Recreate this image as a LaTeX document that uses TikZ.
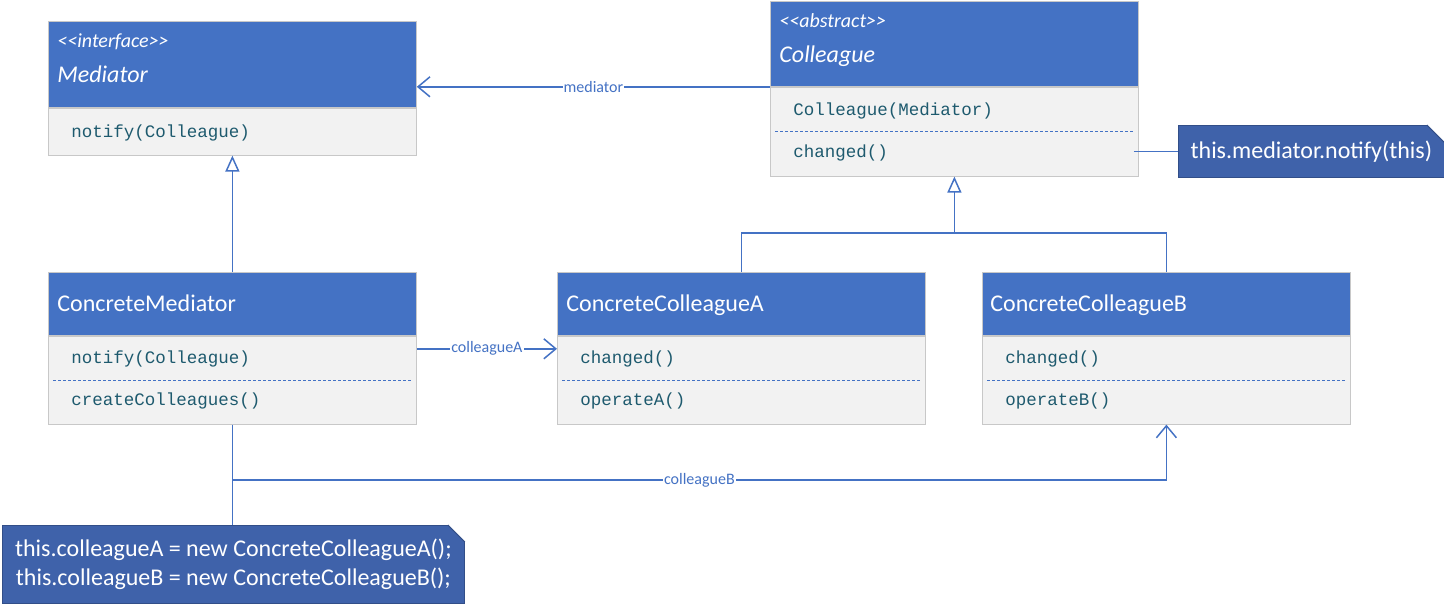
\documentclass[tikz,border=0pt]{standalone}
\usepackage{fontspec}
\setmainfont{Carlito}
\newfontfamily\codefont{Liberation Mono}
\usetikzlibrary{arrows.meta,positioning,calc}
\definecolor{umlblue}{RGB}{68,114,196}
\definecolor{notefill}{RGB}{63,98,170}
\definecolor{bodyfill}{RGB}{242,242,242}
\definecolor{boxline}{RGB}{200,200,200}
\definecolor{membertext}{RGB}{30,90,110}

\begin{document}
\begin{tikzpicture}[x=0.5pt, y=-0.5pt,
    classhead/.style={rectangle, draw=boxline, fill=umlblue, minimum width=184pt, anchor=north west, inner sep=0pt},
    classbody/.style={rectangle, draw=boxline, fill=bodyfill, minimum width=184pt, anchor=north, inner sep=0pt},
    stereotype/.style={anchor=base west, inner sep=0pt, text=white, font=\fontsize{10}{12}\selectfont\itshape},
    classname/.style={anchor=base west, inner sep=0pt, text=white, font=\fontsize{12}{14}\selectfont},
    abstractname/.style={classname, font=\fontsize{12}{14}\selectfont\itshape},
    member/.style={anchor=base west, inner sep=0pt, text=membertext, font=\codefont\fontsize{8.75}{10}\selectfont},
    separator/.style={umlblue, dash pattern=on 1.5pt off 1pt, line width=0.5pt},
    association/.style={umlblue, line width=0.75pt, -{Straight Barb[length=6pt,width=10pt]}},
    generalization/.style={umlblue, line width=0.75pt, -{Triangle[open,fill=white,length=8pt,width=7pt]}},
    link/.style={umlblue, line width=0.75pt},
    role/.style={fill=white, inner sep=0.5pt, text=umlblue, font=\fontsize{8}{9}\selectfont},
    note/.style={rectangle, draw=notefill!80!black, fill=notefill, text=white, inner sep=0pt, anchor=north west, font=\fontsize{12}{14.5}\selectfont, align=center},
    noteline/.style={umlblue, line width=0.5pt}
]
\useasboundingbox (0,0) rectangle (1444,605);

% Mediator
\node[classhead, minimum height=43pt] (medhead) at (48,21) {};
\node[classbody, minimum height=23.5pt] (medbody) at (medhead.south) {};
\node[stereotype] (medstereo) at (57,47) {<{}<interface>{}>};
\node[abstractname] (medname) at (57,82) {Mediator};
\node[member] (mednotify) at (71,137) {notify(Colleague)};

% Colleague
\node[classhead, minimum height=42.5pt] (colhead) at (770,1) {};
\node[classbody, minimum height=44.5pt] (colbody) at (colhead.south) {};
\node[stereotype] (colstereo) at (779,27) {<{}<abstract>{}>};
\node[abstractname] (colname) at (779,62) {Colleague};
\node[member] (colctor) at (793,115) {Colleague(Mediator)};
\node[member] (colchanged) at (793,157) {changed()};
\draw[separator] ([xshift=2.5pt]colbody.west) -- ([xshift=-2.5pt]colbody.east);

% ConcreteMediator
\node[classhead, minimum height=31.5pt] (cmhead) at (48,272) {};
\node[classbody, minimum height=44pt] (cmbody) at (cmhead.south) {};
\node[classname] (cmname) at (57,311) {ConcreteMediator};
\node[member] (cmnotify) at (71,363) {notify(Colleague)};
\node[member] (cmcreate) at (71,405) {createColleagues()};
\draw[separator] ([xshift=2.5pt]cmbody.west) -- ([xshift=-2.5pt]cmbody.east);

% ConcreteColleagueA
\node[classhead, minimum height=31.5pt] (ahead) at (557,272) {};
\node[classbody, minimum height=44pt] (abody) at (ahead.south) {};
\node[classname] (aname) at (566,311) {ConcreteColleagueA};
\node[member] (achanged) at (580,363) {changed()};
\node[member] (aoperate) at (580,405) {operateA()};
\draw[separator] ([xshift=2.5pt]abody.west) -- ([xshift=-2.5pt]abody.east);

% ConcreteColleagueB
\node[classhead, minimum height=31.5pt] (bhead) at (982,272) {};
\node[classbody, minimum height=44pt] (bbody) at (bhead.south) {};
\node[classname] (bname) at (990,311) {ConcreteColleagueB};
\node[member] (bchanged) at (1005,363) {changed()};
\node[member] (boperate) at (1005,405) {operateB()};
\draw[separator] ([xshift=2.5pt]bbody.west) -- ([xshift=-2.5pt]bbody.east);

% Notes
\node[note, minimum width=133pt, minimum height=26pt] (note1) at (1178,125) {this.mediator.notify(this)};
\fill[white] ([xshift=-9pt]note1.north east) -- (note1.north east) -- ([yshift=-9pt]note1.north east) -- cycle;
\draw[notefill!80!black, line width=0.5pt] ([xshift=-9pt]note1.north east) -- ([yshift=-9pt]note1.north east);

\node[note, minimum width=231pt, minimum height=39pt] (note2) at (2,525) {this.colleagueA = new ConcreteColleagueA();\\this.colleagueB = new ConcreteColleagueB();};
\fill[white] ([xshift=-8.5pt]note2.north east) -- (note2.north east) -- ([yshift=-8.5pt]note2.north east) -- cycle;
\draw[notefill!80!black, line width=0.5pt] ([xshift=-8.5pt]note2.north east) -- ([yshift=-8.5pt]note2.north east);

% Generalizations
\coordinate (fork) at (colbody.south |- 0,233);
\draw[generalization] (cmhead.north) -- (medbody.south);
\draw[link] (ahead.north) |- (fork) -| (bhead.north);
\draw[generalization] (fork) -- (colbody.south);

% Associations
\coordinate (bend) at (cmbody.south |- 0,480);
\draw[association] (colhead.south west) -- (colhead.south west -| medhead.east) node[role, midway] {mediator};
\draw[association] ([yshift=-6.5pt]cmbody.north east) -- ([yshift=-6.5pt]abody.north west) node[role, midway] {colleagueA};
\draw[association] (cmbody.south) -- (bend) -| node[role, pos=0.25] {colleagueB} (bbody.south);

% Note links
\path (colbody.east |- note1.west) ++(-2.5pt,0) coordinate (hook);
\draw[noteline] (hook) -- (note1.west);
\draw[noteline] (note2.north -| bend) -- (bend);

\end{tikzpicture}
\end{document}
